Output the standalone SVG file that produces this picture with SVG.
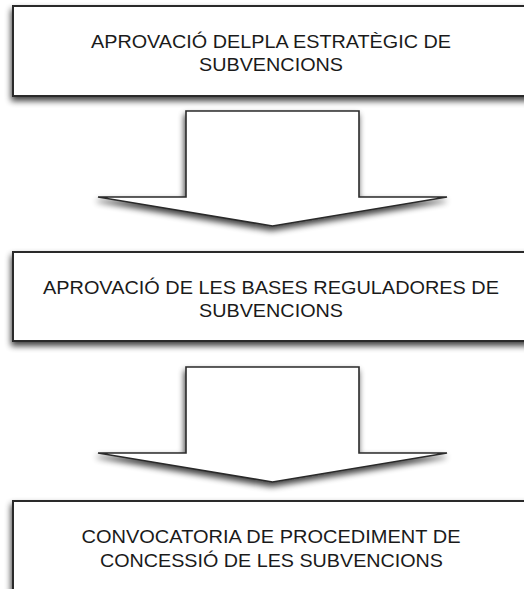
<svg xmlns="http://www.w3.org/2000/svg" width="524" height="589" viewBox="0 0 524 589">
<defs>
<filter id="sh" x="-20%" y="-30%" width="140%" height="160%">
<feGaussianBlur in="SourceAlpha" stdDeviation="3.2"/>
<feOffset dx="-1" dy="4" result="b"/>
<feComponentTransfer><feFuncA type="linear" slope="0.75"/></feComponentTransfer>
<feMerge><feMergeNode/><feMergeNode in="SourceGraphic"/></feMerge>
</filter>
<style>
.box{fill:#fff;stroke:#2a2a2a;stroke-width:2;filter:url(#sh)}
.arr{fill:#fff;stroke:#2a2a2a;stroke-width:1.6;stroke-linejoin:miter;filter:url(#sh)}
.t{font-family:"Liberation Sans",Arial,sans-serif;font-size:19px;fill:#1a1a1a;text-anchor:middle}
</style>
</defs>
<rect width="524" height="589" fill="#fff"/>
<g id="connectors">
<polygon class="arr" points="186,111 359,111 359,197 447,197 272.5,226 98,197 186,197"/>
<polygon class="arr" points="186,367 359,367 359,453 447,453 272.5,482 98,453 186,453"/>
</g>
<g id="node1">
<rect class="box" x="13" y="6" width="520" height="90"/>
<text class="t" x="271" y="47.5" textLength="360" lengthAdjust="spacingAndGlyphs">APROVACIÓ DELPLA ESTRATÈGIC DE</text>
<text class="t" x="271" y="71" textLength="144" lengthAdjust="spacingAndGlyphs">SUBVENCIONS</text>
</g>
<g id="node2">
<rect class="box" x="13" y="252" width="520" height="89"/>
<text class="t" x="271" y="293.5" textLength="456" lengthAdjust="spacingAndGlyphs">APROVACIÓ DE LES BASES REGULADORES DE</text>
<text class="t" x="271" y="317" textLength="144" lengthAdjust="spacingAndGlyphs">SUBVENCIONS</text>
</g>
<g id="node3">
<rect class="box" x="13" y="501" width="520" height="100"/>
<text class="t" x="271" y="543" textLength="379" lengthAdjust="spacingAndGlyphs">CONVOCATORIA DE PROCEDIMENT DE</text>
<text class="t" x="271.5" y="567" textLength="343" lengthAdjust="spacingAndGlyphs">CONCESSIÓ DE LES SUBVENCIONS</text>
</g>
</svg>
